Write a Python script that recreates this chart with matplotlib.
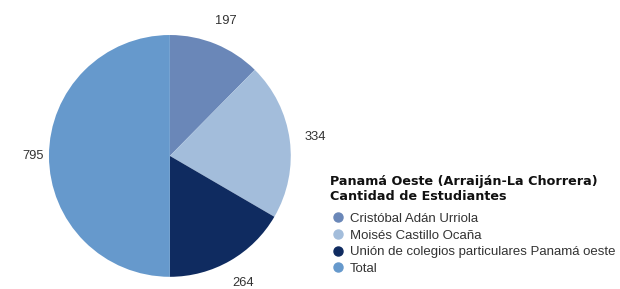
import numpy as np
import matplotlib.pyplot as plt
from matplotlib.lines import Line2D

# Datos
categorias = ['Cristóbal Adán Urriola', 'Moisés Castillo Ocaña',
              'Unión de colegios particulares Panamá oeste', 'Total']
valores = [197, 334, 264, 795]
colores = ['#6a87b8', '#a3bddb', '#0f2b60', '#6699cc']
titulo = ['Panamá Oeste (Arraiján-La Chorrera)', 'Cantidad de Estudiantes']
dist_etiquetas = [1.21, 1.21, 1.215, 1.13]

fig = plt.figure(figsize=(6.2, 2.89), dpi=100)
ax = fig.add_axes([0.079, 0.042, 0.39, 0.837])

wedges, _ = ax.pie(valores, colors=colores, startangle=90, counterclock=False)
ax.set_aspect('equal')
ax.set_xlim(-1, 1)
ax.set_ylim(-1, 1)

# Etiquetas de valores
for w, v, d in zip(wedges, valores, dist_etiquetas):
    ang = np.deg2rad((w.theta1 + w.theta2) / 2)
    ax.text(d * np.cos(ang), d * np.sin(ang), str(v), ha='center', va='center',
            fontsize=9.3, color='#333333', family='Liberation Sans')

# Título de la leyenda
fig.text(330 / 620, 1 - 181 / 289, titulo[0], fontsize=9.2, weight='bold',
         color='#111111', va='center', ha='left')
fig.text(330 / 620, 1 - 196 / 289, titulo[1], fontsize=9.2, weight='bold',
         color='#111111', va='center', ha='left')

# Leyenda
handles = [Line2D([], [], marker='o', linestyle='', markersize=6.5,
                  markerfacecolor=c, markeredgecolor=c) for c in colores]
leg = fig.legend(handles, categorias, loc='upper left',
                 bbox_to_anchor=(0.536, 0.264), frameon=False,
                 prop={'family': 'Liberation Sans', 'size': 9.5},
                 handlelength=0.85, handletextpad=0.5, labelspacing=0.33,
                 borderaxespad=0, borderpad=0)
for t in leg.get_texts():
    t.set_color('#333333')

plt.savefig('out.png', dpi=100)
